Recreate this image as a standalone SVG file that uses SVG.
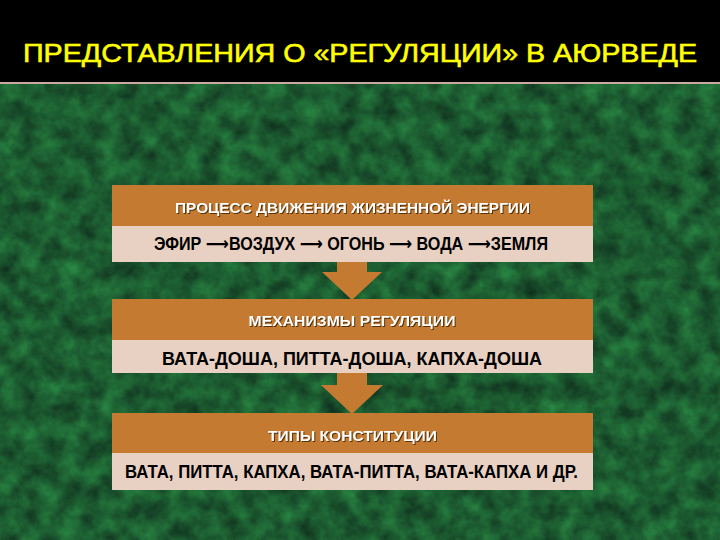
<svg xmlns="http://www.w3.org/2000/svg" width="720" height="540" viewBox="0 0 720 540">
<defs>
<filter id="tex" x="0" y="84" width="720" height="456" filterUnits="userSpaceOnUse" color-interpolation-filters="sRGB">
<feTurbulence type="fractalNoise" baseFrequency="0.05" numOctaves="4" seed="7" result="n"/>
<feColorMatrix in="n" type="matrix" values="0.12 0 0 0 0.05  0.42 0 0 0 0.15  0.18 0 0 0 0.1  0 0 0 0 1"/>
</filter>
<filter id="sh" x="-5%" y="-30%" width="110%" height="160%" color-interpolation-filters="sRGB">
<feDropShadow dx="1" dy="1" stdDeviation="0.4" flood-color="#3a2000" flood-opacity="0.8"/>
</filter>
<style>
.hd{fill:#C47A30}
.bd{fill:#E8D1C3}
.t1{font-family:"Liberation Sans",Arial,sans-serif;font-weight:bold;font-size:15px;fill:#ffffff;text-anchor:middle}
.t2{font-family:"Liberation Sans","DejaVu Sans",Arial,sans-serif;font-weight:bold;font-size:18px;fill:#000000;text-anchor:middle}
.arr{fill:#C47A30}
</style>
</defs>
<rect x="0" y="0" width="720" height="540" fill="#000"/>
<rect x="0" y="84" width="720" height="456" filter="url(#tex)"/>
<rect x="0" y="82" width="720" height="2" fill="#c9a9a0"/>
<text x="360" y="62" font-family="'Liberation Sans',Arial,sans-serif" font-size="26" fill="#FFFF00" stroke="#FFFF00" stroke-width="0.6" text-anchor="middle" textLength="674" lengthAdjust="spacingAndGlyphs">ПРЕДСТАВЛЕНИЯ О «РЕГУЛЯЦИИ» В АЮРВЕДЕ</text>

<g id="node1">
<rect class="hd" x="112" y="185" width="481" height="41"/>
<rect class="bd" x="112" y="226" width="481" height="36"/>
<text class="t1" x="352.5" y="213" textLength="355" lengthAdjust="spacingAndGlyphs" filter="url(#sh)">ПРОЦЕСС ДВИЖЕНИЯ ЖИЗНЕННОЙ ЭНЕРГИИ</text>
<text class="t2" x="351" y="250" textLength="394" lengthAdjust="spacingAndGlyphs">ЭФИР ⟶ВОЗДУХ ⟶ ОГОНЬ ⟶ ВОДА ⟶ЗЕМЛЯ</text>
</g>
<g id="node2">
<rect class="hd" x="112" y="299" width="481" height="41"/>
<rect class="bd" x="112" y="340" width="481" height="33"/>
<text class="t1" x="352" y="326" textLength="207" lengthAdjust="spacingAndGlyphs" filter="url(#sh)">МЕХАНИЗМЫ  РЕГУЛЯЦИИ</text>
<text class="t2" x="352" y="365" textLength="380" lengthAdjust="spacingAndGlyphs">ВАТА-ДОША,  ПИТТА-ДОША,  КАПХА-ДОША</text>
</g>
<g id="node3">
<rect class="hd" x="112" y="413" width="481" height="40"/>
<rect class="bd" x="112" y="453" width="481" height="37"/>
<text class="t1" x="352.5" y="441" textLength="169" lengthAdjust="spacingAndGlyphs" filter="url(#sh)">ТИПЫ КОНСТИТУЦИИ</text>
<text class="t2" x="351.5" y="478" textLength="453" lengthAdjust="spacingAndGlyphs">ВАТА, ПИТТА, КАПХА, ВАТА-ПИТТА, ВАТА-КАПХА И ДР.</text>
</g>
<g id="connectors">
<polygon class="arr" points="337,262 367,262 367,272 382,272 352,300 322,272 337,272"/>
<polygon class="arr" points="337,373 367,373 367,385 383,385 352,414 321,385 337,385"/>
</g>
</svg>
